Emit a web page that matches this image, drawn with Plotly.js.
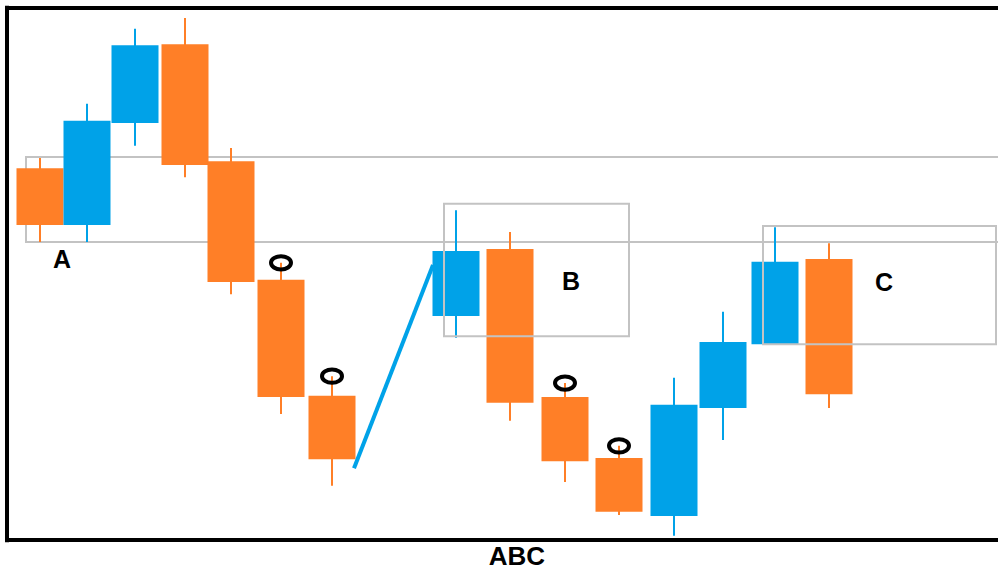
<!DOCTYPE html>
<html>
<head>
<meta charset="utf-8">
<script src="https://cdn.plot.ly/plotly-3.0.1.min.js"></script>
<style>html,body{margin:0;padding:0;background:#fff;}#chart{width:998px;height:571px;}</style>
</head>
<body>
<div id="chart"></div>
<script>
// ---- data ----
const candleX = [0.66, 1.60, 2.56, 3.56, 4.48, 5.48, 6.50, 8.98, 10.06, 11.16, 12.24, 13.34, 14.32, 15.36, 16.44];
const openP  = [69.9, 59.2, 78.4, 93.2, 71.2, 48.9, 27.1, 42.1, 54.7, 26.9, 15.4, 4.5, 24.8, 36.8, 52.8];
const highP  = [71.8, 82.0, 96.1, 98.1, 73.7, 52.1, 30.8, 62.0, 57.9, 29.5, 17.7, 30.5, 42.9, 58.8, 55.8];
const lowP   = [56.0, 56.0, 74.1, 68.2, 46.2, 23.7, 10.2, 38.0, 22.4, 10.9, 4.7, 0.8, 18.8, 36.8, 24.8];
const closeP = [59.2, 78.8, 93.0, 70.5, 48.5, 26.9, 15.2, 54.3, 25.8, 14.8, 5.3, 25.4, 37.2, 52.3, 27.4];

// marked candles (rings on their highs)
const ringIdx = [5, 6, 9, 10];

// trend line
const trendX = [6.94, 8.52];
const trendY = [13.5, 51.7];

// zones
const zoneLabels = ['A', 'B', 'C'];
const zoneStart  = [0.38, 8.74, 15.12];
const zoneEnd    = [21.0, 12.44, 19.78];
const zoneTop    = [72.0, 63.2, 59.0];
const zoneBottom = [56.0, 38.3, 36.8];
const labelX     = [1.10, 11.28, 17.54];
const labelY     = [52.8, 48.7, 48.5];

// ---- styles ----
const UP = '#00a2e8', DOWN = '#ff7f27', BOXC = '#c3c3c3';

const isUp = closeP.map((c, i) => c >= openP[i]);

function wicks(up) {
  const xs = [], ys = [];
  candleX.forEach((x, i) => {
    if (isUp[i] === up) { xs.push(x, x, null); ys.push(lowP[i], highP[i], null); }
  });
  return {type: 'scatter', mode: 'lines', x: xs, y: ys, line: {color: up ? UP : DOWN, width: 2}, hoverinfo: 'skip', showlegend: false};
}

const bars = {
  type: 'bar', x: candleX, base: openP, y: closeP.map((c, i) => c - openP[i]),
  width: 0.94, marker: {color: isUp.map(u => u ? UP : DOWN), line: {width: 0}}, showlegend: false
};

const trend = {type: 'scatter', mode: 'lines', x: trendX, y: trendY, line: {color: UP, width: 4}, showlegend: false};

const shapes = [];
zoneLabels.forEach((l, i) => {
  shapes.push({type: 'rect', xref: 'x', yref: 'y', x0: zoneStart[i], x1: zoneEnd[i], y0: zoneBottom[i], y1: zoneTop[i],
    line: {color: BOXC, width: 2}, fillcolor: 'rgba(0,0,0,0)', layer: i === 0 ? 'below' : 'above'});
});
ringIdx.forEach(i => {
  shapes.push({type: 'circle', xref: 'x', yref: 'y', x0: candleX[i] - 0.2, x1: candleX[i] + 0.2,
    y0: highP[i] - 1.25, y1: highP[i] + 1.25, line: {color: '#000', width: 4}, layer: 'above'});
});
// frame
shapes.push({type: 'line', xref: 'paper', yref: 'paper', x0: 0, x1: 0, y0: -0.004, y1: 1.004, line: {color: '#000', width: 4}});
shapes.push({type: 'line', xref: 'paper', yref: 'paper', x0: 0, x1: 1.01, y0: 1, y1: 1, line: {color: '#000', width: 4}});
shapes.push({type: 'line', xref: 'paper', yref: 'paper', x0: 0, x1: 1.01, y0: 0, y1: 0, line: {color: '#000', width: 4}});

const annotations = zoneLabels.map((l, i) => ({
  x: labelX[i], y: labelY[i], xref: 'x', yref: 'y', text: '<b>' + l + '</b>', showarrow: false,
  font: {family: 'Liberation Sans, Arial, sans-serif', size: 25, color: '#000'}
}));

const layout = {
  width: 998, height: 571,
  margin: {l: 7, r: 0, t: 8, b: 31, pad: 0},
  paper_bgcolor: '#fff', plot_bgcolor: '#fff',
  title: {text: '<b>ABC</b>', font: {family: 'Liberation Sans, Arial, sans-serif', size: 26, color: '#000'},
    xref: 'container', yref: 'container', x: 0.518, xanchor: 'center', y: 0.026, yanchor: 'middle'},
  xaxis: {range: [0, 19.82], showgrid: false, zeroline: false, showticklabels: false, ticks: '', showline: false},
  yaxis: {range: [0, 100], showgrid: false, zeroline: false, showticklabels: false, ticks: '', showline: false},
  barmode: 'overlay', showlegend: false, hovermode: false,
  shapes: shapes, annotations: annotations
};

Plotly.newPlot('chart', [wicks(true), wicks(false), bars, trend], layout, {staticPlot: true});
</script>
</body>
</html>
